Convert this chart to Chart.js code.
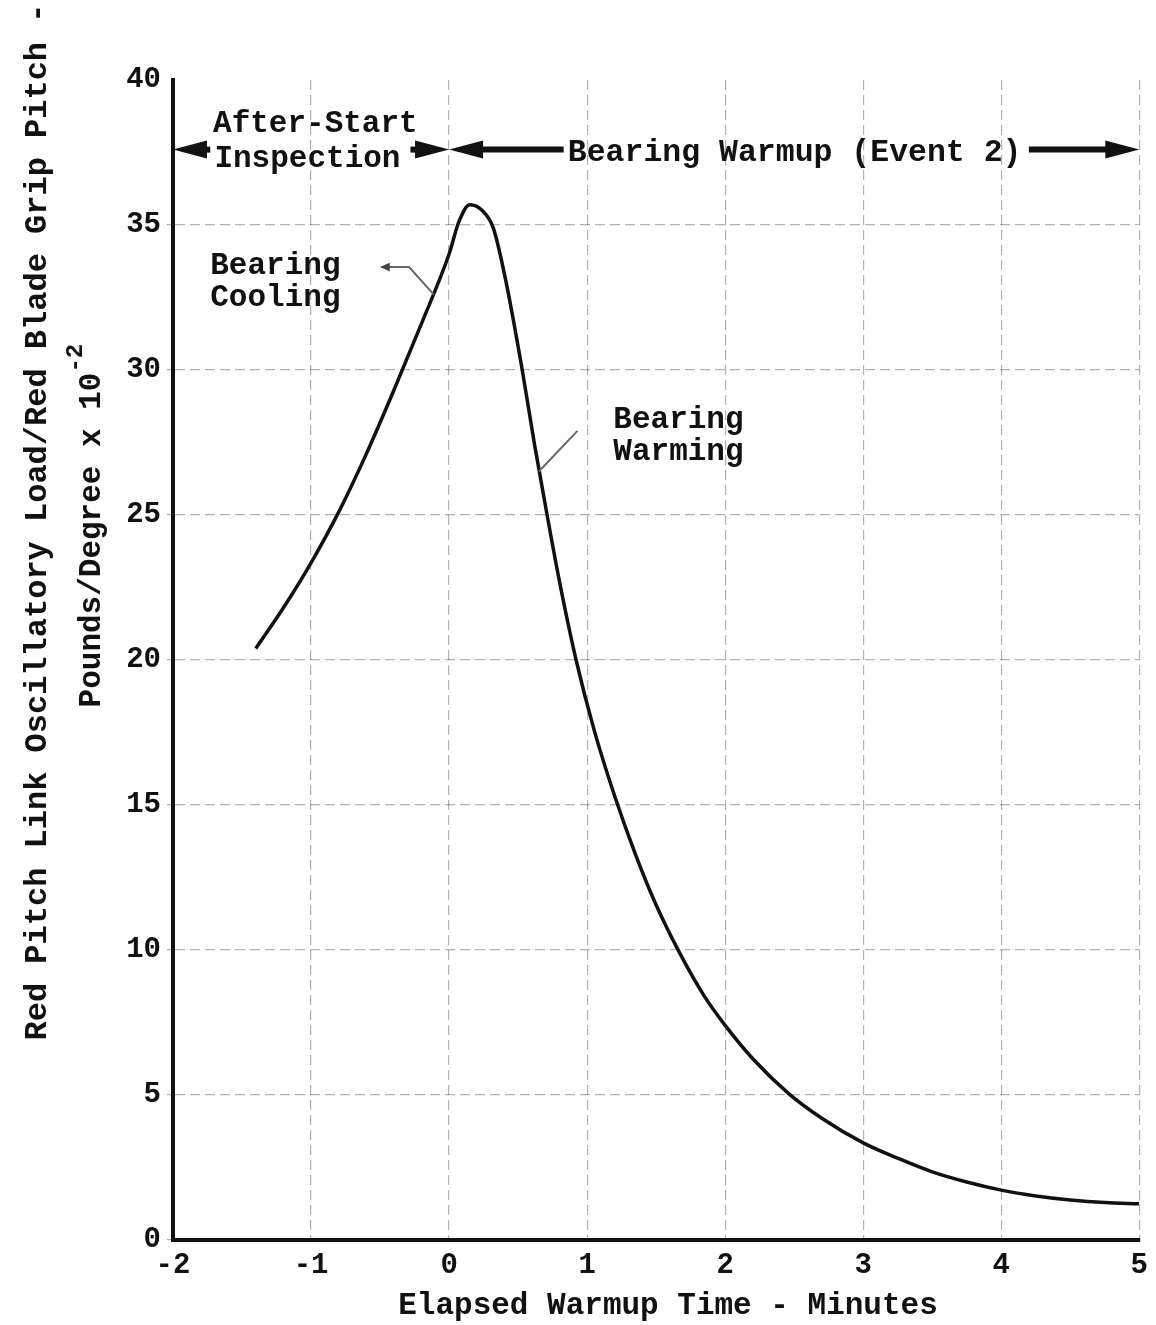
<!DOCTYPE html>
<html>
<head>
<meta charset="utf-8">
<script src="https://cdn.jsdelivr.net/npm/chart.js@4"></script>
<style>
  body { margin: 0; background: #fff; }
  #wrap { width: 1156px; height: 1325px; }
</style>
</head>
<body>
<div id="wrap"><canvas id="myChart"></canvas></div>
<script>
// values
const timeMinutes = [-1.4, -1.2, -1.0, -0.8, -0.6, -0.4, -0.2, 0, 0.07, 0.15, 0.24, 0.32, 0.41, 0.53, 0.62, 0.71, 0.8, 0.92, 1.05, 1.2, 1.35, 1.5, 1.67, 1.85, 2.0, 2.2, 2.46, 2.7, 3.0, 3.25, 3.5, 3.75, 4.0, 4.25, 4.5, 4.75, 5.0];
const loadRatio = [20.4, 21.8, 23.35, 25.1, 27.1, 29.3, 31.6, 34.0, 35.1, 35.7, 35.5, 34.9, 33.1, 30, 27.4, 25, 22.7, 20, 17.6, 15.3, 13.3, 11.55, 9.9, 8.4, 7.4, 6.25, 5.05, 4.2, 3.35, 2.82, 2.35, 2.0, 1.72, 1.52, 1.38, 1.29, 1.25];
const xTicks = [-2, -1, 0, 1, 2, 3, 4, 5];
const yTicks = [0, 5, 10, 15, 20, 25, 30, 35, 40];

const FONT = '"Liberation Mono", "Courier New", monospace';

const points = timeMinutes.map((t, i) => ({ x: t, y: loadRatio[i] }));

function arrow(ctx, x1, y, x2) {
  // shaft from x1 to x2, head at x2
  const dir = x2 > x1 ? 1 : -1;
  ctx.beginPath();
  ctx.moveTo(x1, y);
  ctx.lineTo(x2 - dir * 20, y);
  ctx.lineWidth = 6;
  ctx.stroke();
  ctx.beginPath();
  ctx.moveTo(x2, y);
  ctx.lineTo(x2 - dir * 34, y - 9);
  ctx.lineTo(x2 - dir * 34, y + 9);
  ctx.closePath();
  ctx.fill();
}

const notes = {
  id: 'notes',
  afterDraw(chart) {
    const ctx = chart.ctx;
    const xs = chart.scales.x, ys = chart.scales.y;
    const px = v => xs.getPixelForValue(v);
    const py = v => ys.getPixelForValue(v);
    ctx.save();
    ctx.fillStyle = '#111';
    ctx.strokeStyle = '#111';

    // phase arrows
    const ay = py(37.6);
    arrow(ctx, px(-1.73), ay, px(-2));
    arrow(ctx, px(-0.28), ay, px(0));
    arrow(ctx, px(0.83), ay, px(0));
    arrow(ctx, px(4.2), ay, px(5));

    ctx.font = 'bold 31px ' + FONT;
    ctx.textBaseline = 'alphabetic';
    ctx.textAlign = 'left';
    ctx.fillText('After-Start', px(-1.71), py(38.2));
    ctx.fillText('Inspection', px(-1.70), py(37.0));
    ctx.font = 'bold 31.5px ' + FONT;
    ctx.fillText('Bearing Warmup (Event 2)', px(0.86), py(37.2));

    ctx.font = 'bold 31px ' + FONT;
    ctx.fillText('Bearing', px(-1.73), py(33.3));
    ctx.fillText('Cooling', px(-1.73), py(32.2));
    ctx.fillText('Bearing', px(1.19), py(28.0));
    ctx.fillText('Warming', px(1.19), py(26.9));

    // leader lines
    ctx.strokeStyle = '#666';
    ctx.fillStyle = '#444';
    ctx.lineWidth = 2;
    ctx.beginPath();
    ctx.moveTo(px(-0.49), py(33.55));
    ctx.lineTo(px(-0.29), py(33.55));
    ctx.lineTo(px(-0.11), py(32.6));
    ctx.stroke();
    ctx.beginPath();
    ctx.moveTo(px(-0.5), py(33.55));
    ctx.lineTo(px(-0.43), py(33.7));
    ctx.lineTo(px(-0.43), py(33.4));
    ctx.closePath();
    ctx.fill();
    ctx.beginPath();
    ctx.moveTo(px(0.93), py(27.9));
    ctx.lineTo(px(0.65), py(26.5));
    ctx.stroke();

    // axis titles
    ctx.fillStyle = '#111';
    ctx.font = 'bold 31px ' + FONT;
    ctx.textAlign = 'center';
    ctx.fillText('Elapsed Warmup Time - Minutes', 668, 1314);

    ctx.translate(38, 522);
    ctx.rotate(-Math.PI / 2);
    ctx.textBaseline = 'middle';
    ctx.font = 'bold 32px ' + FONT;
    ctx.fillText('Red Pitch Link Oscillatory Load/Red Blade Grip Pitch -', 0, 0);
    ctx.font = 'bold 31px ' + FONT;
    const second = 'Pounds/Degree x 10';
    ctx.textAlign = 'left';
    const w = ctx.measureText(second).width;
    ctx.fillText(second, -w / 2 - 18, 54);
    ctx.font = 'bold 24px ' + FONT;
    ctx.fillText('-2', w / 2 - 18, 38);
    ctx.restore();
  }
};

const gridColor = 'rgba(0,0,0,0.3)';

new Chart(document.getElementById('myChart'), {
  type: 'scatter',
  data: {
    datasets: [{
      data: points,
      showLine: true,
      borderColor: '#111',
      borderWidth: 3.5,
      pointRadius: 0,
      cubicInterpolationMode: 'monotone'
    }]
  },
  options: {
    responsive: true,
    maintainAspectRatio: false,
    animation: false,
    layout: { padding: { left: 0, top: 80, right: 13, bottom: 0 } },
    plugins: { legend: { display: false }, tooltip: { enabled: false } },
    scales: {
      x: {
        type: 'linear',
        min: -2, max: 5,
        afterFit: s => { s.height = 85; },
        afterBuildTicks: s => { s.ticks = xTicks.map(v => ({ value: v })); },
        border: { display: true, color: '#111', width: 4, dash: [10, 5] },
        grid: {
          color: gridColor, lineWidth: 1.2, drawTicks: false
        },
        ticks: {
          padding: 8,
          color: '#111',
          font: { family: FONT, size: 29, weight: 'bold' },
          callback: v => String(v)
        }
      },
      y: {
        min: 0, max: 40,
        afterFit: s => { s.width = 173; },
        afterBuildTicks: s => { s.ticks = yTicks.map(v => ({ value: v })); },
        border: { display: true, color: '#111', width: 4, dash: [10, 5] },
        grid: {
          color: c => c.tick && c.tick.value === 40 ? 'rgba(0,0,0,0)' : gridColor,
          lineWidth: 1.2, tickLength: 6, drawTicks: true
        },
        ticks: {
          padding: 6,
          color: '#111',
          font: { family: FONT, size: 29, weight: 'bold' },
          callback: v => String(v)
        }
      }
    }
  },
  plugins: [notes]
});
</script>
</body>
</html>
